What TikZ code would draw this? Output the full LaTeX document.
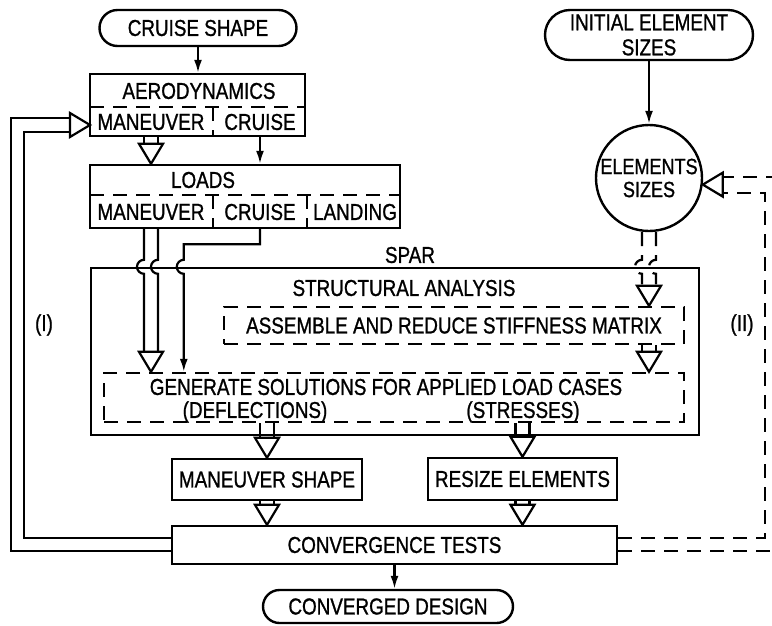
\documentclass[tikz,border=0pt]{standalone}
\usepackage{fontspec}
\setmainfont{Liberation Sans}[FakeStretch=0.82, FakeBold=1]
\usetikzlibrary{shapes.misc,calc,arrows.meta}

\tikzset{
    box/.style={draw, line width=2.4pt, inner sep=0pt},
    term/.style={draw, line width=2.4pt, rounded rectangle, inner sep=0pt},
    brk/.style={dash pattern=on 14pt off 9pt},
    wire/.style={line width=2.2pt},
    flow/.style={wire, -{Latex[length=13pt,width=8pt]}},
    hop/.style={insert path={arc[start angle=270, end angle=90, radius=7]}},
    fathead/.pic={\draw[wire, solid] (-12,-20) -- (0,0) -- (12,-20) -- cycle;},
}

\newcommand{\fatlink}[3][]{%
    \draw[wire, #1] ($(#2)+(-7,0)$) -- ($(#3)+(-7,-20)$)
                    ($(#2)+(7,0)$) -- ($(#3)+(7,-20)$);
    \pic at (#3) {fathead};
}

\begin{document}
\begin{tikzpicture}[x=1pt, y=-1pt, font=\fontsize{23}{25}\selectfont]
\path[use as bounding box, clip] (0,0) rectangle (772,625);

% terminals
\node[term, minimum width=197pt, minimum height=36pt] (cruise) at (198,28) {CRUISE SHAPE};
\node[term, minimum width=208pt, minimum height=50pt, align=center] (init) at (649,35) {INITIAL ELEMENT\\SIZES};
\node[term, minimum width=250pt, minimum height=33pt] (done) at (388,606.5) {CONVERGED DESIGN};

% aerodynamics and loads
\node[box, minimum width=215pt, minimum height=62pt] (aero) at (197.5,105) {};
\node (aerot) at (199,91) {AERODYNAMICS};
\node (aeroman) at (151,122) {MANEUVER};
\node (aerocru) at (260,122) {CRUISE};
\draw[wire, brk] (90,107) -- (305,107) (213,107) -- (213,136);

\node[box, minimum width=310pt, minimum height=63pt] (loads) at (245,196.5) {};
\node (loadst) at (203,180) {LOADS};
\node (loadman) at (151,212) {MANEUVER};
\node (loadcru) at (260,212) {CRUISE};
\node (loadland) at (355,212) {LANDING};
\draw[wire, brk] (90,195) -- (400,195) (213,195) -- (213,228) (307,195) -- (307,228);

% spar
\node (spart) at (410,255) {SPAR};
\node[box, minimum width=608pt, minimum height=167pt] (spar) at (395,351.5) {};
\node (struct) at (404,288) {STRUCTURAL ANALYSIS};
\node[box, brk, minimum width=460pt, minimum height=37pt] (assemble) at (454,325.5) {ASSEMBLE AND REDUCE STIFFNESS MATRIX};
\node[box, brk, minimum width=580pt, minimum height=49pt] (gen) at (394,397.5) {};
\node (gent) at (386,387) {GENERATE SOLUTIONS FOR APPLIED LOAD CASES};
\node (defl) at (255,412) {(DEFLECTIONS)};
\node (stress) at (523,412) {(STRESSES)};

% results
\node[box, minimum width=190pt, minimum height=41pt] (manshape) at (267,479.5) {MANEUVER SHAPE};
\node[box, minimum width=189pt, minimum height=42pt] (resize) at (522.5,479) {RESIZE ELEMENTS};
\node[box, minimum width=445pt, minimum height=38pt] (conv) at (394.5,545) {CONVERGENCE TESTS};

% element sizes
\node[draw, circle, line width=2.4pt, minimum size=106pt, inner sep=0pt, align=center,
      font=\fontsize{22}{23}\selectfont] (elem) at (649,178) {ELEMENTS\\SIZES};

\node (fbI) at (44,325) {(I)};
\node (fbII) at (742,325) {(II)};

% connectors
\draw[flow] (cruise.south) -- (cruise.south |- aero.north);
\draw[flow] (aerocru |- aero.south) -- (aerocru |- loads.north);
\fatlink{aeroman |- aero.south}{aeroman |- loads.north}
\draw[flow] (init.south) -- (elem.north);

% loads into the solution step, hopping over the frame
\draw[wire] ($(loadman |- loads.south)+(-7,0)$) -- ($(loadman |- spar.north)+(-7,-7)$) [hop] -- ($(loadman |- gen.north)+(-7,-20)$);
\draw[wire] ($(loadman |- loads.south)+(7,0)$) -- ($(loadman |- spar.north)+(7,-7)$) [hop] -- ($(loadman |- gen.north)+(7,-20)$);
\pic at (loadman |- gen.north) {fathead};
\coordinate (genin) at ($(gen.north west)+(81,0)$);
\draw[flow] (loadcru |- loads.south) -- ++(0,15) -| ($(genin |- spar.north)+(0,-7)$) [hop] -- (genin);

\draw[wire, brk] ($(elem.south)+(-7,0)$) -- ($(elem.south |- spar.north)+(-7,-7)$) [hop] -- ($(elem.south |- assemble.north)+(-7,-20)$);
\draw[wire, brk] ($(elem.south)+(7,0)$) -- ($(elem.south |- spar.north)+(7,-7)$) [hop] -- ($(elem.south |- assemble.north)+(7,-20)$);
\pic at (elem.south |- assemble.north) {fathead};

\fatlink[brk]{elem.south |- assemble.south}{elem.south |- gen.north}
\fatlink{manshape |- gen.south}{manshape.north}
\fatlink[brk]{resize |- gen.south}{resize.north}
\fatlink{manshape.south}{manshape.south |- conv.north}
\fatlink{resize.south}{resize.south |- conv.north}
\draw[flow] (conv.south) -- (conv.south |- done.north);

% loop (I)
\coordinate (aeroin) at (90,125);
\draw[wire] ([yshift=7pt]conv.west) -| ($(aeroin)+(-66,7)$) -- ($(aeroin)+(-20,7)$);
\draw[wire] ([yshift=-6pt]conv.west) -| ($(aeroin)+(-79,-7)$) -- ($(aeroin)+(-20,-7)$);
\pic[rotate=90] at (aeroin) {fathead};

% loop (II)
\coordinate (elemin) at (elem.-7);
\draw[wire, brk] ([yshift=7pt]conv.east) -| ($(elemin)+(62,8)$) -- ($(elemin)+(20,8)$);
\draw[wire, brk] ([yshift=-6pt]conv.east) -| ($(elemin)+(85,-8)$) -- ($(elemin)+(20,-8)$);
\pic[rotate=-90] at (elemin) {fathead};

\end{tikzpicture}
\end{document}
